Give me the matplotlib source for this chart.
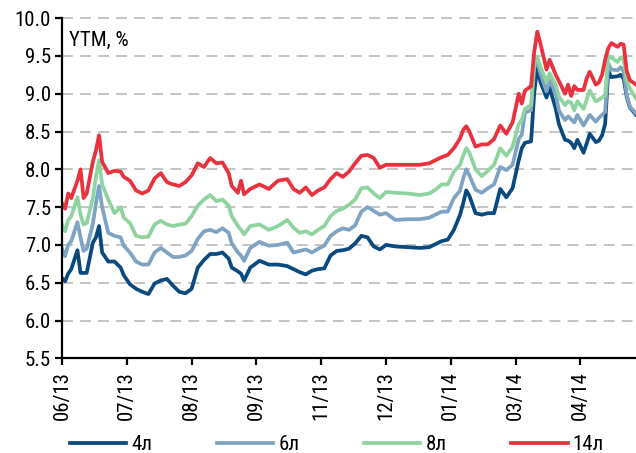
import numpy as np
import matplotlib
matplotlib.use("Agg")
import matplotlib.pyplot as plt
from matplotlib import font_manager
from matplotlib.axes import Axes

# trading-day index (21 days per month tick) and yields, %
days = [
    0, 1, 2, 3, 5, 6, 7, 8, 10, 11, 12, 13, 15, 17, 19, 20, 22, 24, 26, 28,
    30, 32, 34, 36, 38, 40, 42, 44, 46, 48,
    50, 52, 54, 55, 57, 58, 59, 61, 64, 67,
    70, 73, 75, 77, 79, 81, 83, 85, 87, 89,
    91, 93, 95, 97, 99, 101, 103, 105, 108, 112,
    116, 119, 121, 123, 125, 127, 129, 130, 131, 132,
    134, 136, 138, 140, 142, 144, 146, 148, 149, 150,
    152, 153, 154, 155, 157, 158, 160, 161, 163, 164,
    165, 166, 167, 169, 170, 171, 173, 174, 175, 176,
    177, 178, 180, 181, 182, 183, 184, 186,
]

ytm_14 = [
    7.55, 7.48, 7.68, 7.62, 7.85, 8.00, 7.62, 7.68, 8.10, 8.25, 8.45, 8.10, 7.95, 7.98, 7.97, 7.90, 7.85, 7.72, 7.68, 7.72,
    7.88, 7.95, 7.83, 7.80, 7.78, 7.83, 7.92, 8.08, 8.03, 8.15,
    8.08, 8.09, 7.95, 7.78, 7.69, 7.85, 7.67, 7.74, 7.80, 7.74,
    7.85, 7.87, 7.74, 7.69, 7.76, 7.66, 7.72, 7.76, 7.87, 7.95,
    7.90, 7.97, 8.08, 8.18, 8.19, 8.15, 8.02, 8.06, 8.06, 8.06,
    8.06, 8.08, 8.12, 8.16, 8.19, 8.28, 8.41, 8.52, 8.57, 8.50,
    8.30, 8.33, 8.33, 8.40, 8.58, 8.47, 8.62, 9.00, 8.87, 9.04,
    9.10, 9.55, 9.82, 9.67, 9.32, 9.45, 9.25, 9.17, 9.00, 9.12,
    8.97, 9.10, 9.05, 9.05, 9.20, 9.29, 9.12, 9.15, 9.25, 9.45,
    9.60, 9.67, 9.62, 9.66, 9.65, 9.30, 9.18, 9.12,
]

ytm_8 = [
    7.27, 7.18, 7.33, 7.38, 7.63, 7.40, 7.27, 7.29, 7.62, 7.90, 8.12, 7.80, 7.60, 7.42, 7.50, 7.36, 7.29, 7.12, 7.10, 7.11,
    7.27, 7.32, 7.27, 7.25, 7.27, 7.28, 7.38, 7.52, 7.60, 7.66,
    7.58, 7.60, 7.52, 7.38, 7.25, 7.20, 7.14, 7.25, 7.27, 7.20,
    7.25, 7.33, 7.23, 7.16, 7.18, 7.14, 7.20, 7.25, 7.38, 7.45,
    7.48, 7.53, 7.60, 7.75, 7.76, 7.68, 7.62, 7.70, 7.69, 7.68,
    7.66, 7.68, 7.73, 7.80, 7.80, 7.97, 8.06, 8.18, 8.28, 8.22,
    8.00, 7.91, 7.98, 8.06, 8.28, 8.18, 8.30, 8.60, 8.65, 8.80,
    8.85, 9.40, 9.49, 9.36, 9.16, 9.27, 9.12, 8.96, 8.85, 8.90,
    8.88, 8.78, 8.90, 8.80, 8.92, 9.04, 8.90, 8.92, 8.95, 8.98,
    9.50, 9.48, 9.42, 9.48, 9.45, 9.18, 9.07, 8.94,
]

ytm_6 = [
    6.95, 6.85, 7.00, 7.05, 7.30, 7.10, 6.92, 6.95, 7.28, 7.55, 7.78, 7.50, 7.16, 7.12, 7.10, 6.99, 6.90, 6.78, 6.74, 6.74,
    6.90, 6.96, 6.90, 6.84, 6.84, 6.86, 6.92, 7.08, 7.18, 7.20,
    7.17, 7.22, 7.16, 7.02, 6.90, 6.86, 6.79, 6.96, 7.04, 6.99,
    7.00, 7.03, 6.90, 6.92, 6.94, 6.90, 6.95, 6.99, 7.12, 7.18,
    7.22, 7.20, 7.26, 7.44, 7.50, 7.45, 7.40, 7.42, 7.33, 7.34,
    7.34, 7.36, 7.40, 7.44, 7.44, 7.62, 7.72, 7.88, 8.00, 7.92,
    7.73, 7.69, 7.75, 7.80, 8.03, 7.99, 8.06, 8.40, 8.46, 8.75,
    8.78, 9.35, 9.43, 9.27, 9.03, 9.18, 9.00, 8.78, 8.65, 8.70,
    8.66, 8.62, 8.72, 8.58, 8.65, 8.72, 8.63, 8.68, 8.72, 8.76,
    9.40, 9.32, 9.31, 9.35, 9.30, 8.98, 8.83, 8.74,
]

ytm_4 = [
    6.56, 6.52, 6.62, 6.68, 6.93, 6.63, 6.63, 6.63, 7.03, 7.10, 7.25, 6.90, 6.78, 6.78, 6.70, 6.60, 6.48, 6.42, 6.38, 6.35,
    6.49, 6.53, 6.55, 6.46, 6.38, 6.36, 6.42, 6.70, 6.80, 6.88,
    6.88, 6.90, 6.82, 6.70, 6.65, 6.62, 6.53, 6.70, 6.79, 6.74,
    6.74, 6.72, 6.68, 6.64, 6.61, 6.66, 6.68, 6.69, 6.86, 6.92,
    6.93, 6.95, 7.02, 7.12, 7.10, 6.98, 6.94, 7.00, 6.98, 6.97,
    6.96, 6.97, 7.01, 7.05, 7.07, 7.20, 7.40, 7.55, 7.72, 7.65,
    7.42, 7.40, 7.42, 7.42, 7.74, 7.63, 7.75, 8.12, 8.28, 8.35,
    8.37, 9.00, 9.36, 9.16, 8.95, 9.08, 8.80, 8.60, 8.39, 8.38,
    8.35, 8.28, 8.39, 8.22, 8.34, 8.47, 8.36, 8.38, 8.45, 8.60,
    9.30, 9.22, 9.23, 9.25, 9.20, 8.96, 8.82, 8.72,
]

tick_labels = ["06/13", "07/13", "08/13", "09/13", "11/13", "12/13", "01/14", "03/14", "04/14"]
series_names = ["4л", "6л", "8л", "14л"]

for s in (ytm_4, ytm_6, ytm_8, ytm_14):
    assert len(s) == len(days)

colors = ["#0B4A7E", "#7FA3C2", "#8FD4A0", "#E8323E"]

# the original uses a narrow sans (Arial Narrow-like); take what is installed
installed = {f.name for f in font_manager.fontManager.ttflist}
wanted = ["Liberation Sans Narrow", "Arial Narrow", "Roboto Condensed", "Archivo Narrow", "Liberation Sans", "DejaVu Sans"]
plt.rcParams["font.family"] = [f for f in wanted if f in installed] or ["DejaVu Sans"]
plt.rcParams["font.size"] = 15

fig = plt.figure(figsize=(6.36, 4.53), dpi=100)
ax: Axes = fig.add_axes([0.0975, 0.209, 0.9025, 0.751])

x = np.array(days)
lines = []
for vals, c, name in zip([ytm_4, ytm_6, ytm_8, ytm_14], colors, series_names):
    (ln,) = ax.plot(x, vals, color=c, linewidth=2.7, label=name, solid_joinstyle="round")
    lines.append(ln)

ax.set_xlim(0, 186)
ax.set_ylim(5.5, 10.0)
ax.set_yticks(np.arange(5.5, 10.01, 0.5))
ax.yaxis.set_major_formatter(plt.FormatStrFormatter("%.1f"))
ax.set_xticks(np.arange(len(tick_labels)) * 21)
ax.set_xticklabels(tick_labels, rotation=90)

# dashed horizontal grid
for yv in np.arange(6.0, 10.01, 0.5):
    ax.axhline(yv, color="#BFBFBF", linewidth=1.3, linestyle=(0, (6, 4)), zorder=0, clip_on=False)

for side in ("top", "right"):
    ax.spines[side].set_visible(False)
for side in ("left", "bottom"):
    ax.spines[side].set_linewidth(1.6)
    ax.spines[side].set_color("black")

ax.tick_params(axis="both", direction="out", length=5, width=1.6, colors="black", pad=4)
ax.tick_params(axis="y", pad=3)

ax.text(0.012, 0.935, "YTM, %", transform=ax.transAxes, ha="left", va="center", fontsize=15)

fig.legend(
    lines,
    series_names,
    loc="center",
    bbox_to_anchor=(0.53, 1 - 445 / 453),
    ncol=4,
    frameon=False,
    handlelength=2.7,
    handletextpad=0.25,
    columnspacing=3.1,
    fontsize=15,
)

fig.savefig("out.png", dpi=100)
